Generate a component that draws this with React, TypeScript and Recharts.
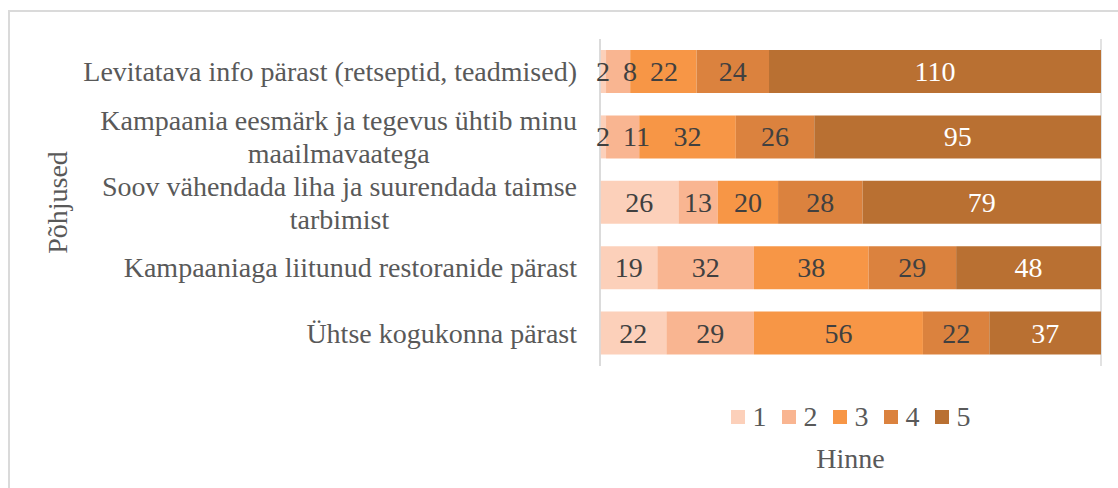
import { BarChart, Bar, XAxis, YAxis, CartesianGrid, Legend, LabelList } from 'recharts';

const categories = [
  'Levitatava info pärast (retseptid, teadmised)',
  'Kampaania eesmärk ja tegevus ühtib minu maailmavaatega',
  'Soov vähendada liha ja suurendada taimse tarbimist',
  'Kampaaniaga liitunud restoranide pärast',
  'Ühtse kogukonna pärast',
];
const grade1 = [2, 2, 26, 19, 22];
const grade2 = [8, 11, 13, 32, 29];
const grade3 = [22, 32, 20, 38, 56];
const grade4 = [24, 26, 28, 29, 22];
const grade5 = [110, 95, 79, 48, 37];
const seriesNames = ['1', '2', '3', '4', '5'];
const colors = ['#fcd0ba', '#f9b591', '#f79646', '#db823e', '#b97032'];
const labelColors = ['#404040', '#404040', '#404040', '#404040', '#ffffff'];

const FONT = '"Liberation Serif", "Times New Roman", serif';
const SIZE = 28;

const seriesValues = [grade1, grade2, grade3, grade4, grade5];
const data = categories.map((name, i) => {
  const row: any = { name };
  seriesNames.forEach((s, j) => (row['g' + s] = seriesValues[j][i]));
  return row;
});
const total = Math.max(...data.map((_, i) => seriesValues.reduce((a, s) => a + s[i], 0)));
const ticks = [0, 1, 2, 3, 4, 5].map((k) => (total * k) / 5);

let ctx: CanvasRenderingContext2D | null = null;
function measure(t: string) {
  if (!ctx) ctx = document.createElement('canvas').getContext('2d');
  if (!ctx) return t.length * SIZE * 0.45;
  ctx.font = `${SIZE}px "Liberation Serif"`;
  return ctx.measureText(t).width;
}

function wrap(text: string, maxW: number) {
  const words = text.split(' ');
  const lines: string[] = [];
  let cur = '';
  words.forEach((w) => {
    const next = cur ? cur + ' ' + w : w;
    if (cur && measure(next) > maxW) {
      lines.push(cur);
      cur = w;
    } else cur = next;
  });
  if (cur) lines.push(cur);
  return lines;
}

// label centres along a row (in value units of px), nudged right when a
// narrow segment's label would crowd the previous one, like Excel does
const LABEL_GAP = 13;
function labelShift(row: number, series: number, pxPerUnit: number) {
  let cum = 0;
  let prevRight = -Infinity;
  let shift = 0;
  for (let j = 0; j <= series; j++) {
    const v = seriesValues[j][row];
    const center = (cum + v / 2) * pxPerUnit;
    const w = measure(String(v));
    let c = center;
    if (c - w / 2 < prevRight + LABEL_GAP) c = prevRight + LABEL_GAP + w / 2;
    prevRight = c + w / 2;
    shift = c - center;
    cum += v;
  }
  return shift;
}

function makeLabel(series: number) {
  return (props: any) => {
    const { x, y, width, height, value, index } = props;
    if (!value) return null;
    const dx = labelShift(index, series, width / value);
    return (
      <text
        x={x + width / 2 + dx}
        y={y + height / 2}
        textAnchor="middle"
        dominantBaseline="central"
        fontFamily={FONT}
        fontSize={SIZE}
        fill={labelColors[series]}
      >
        {value}
      </text>
    );
  };
}

function CategoryTick(props: any) {
  const { x, y, payload } = props;
  const lines = wrap(payload.value, 510);
  const blockW = Math.max(...lines.map(measure));
  const cx = x - blockW / 2;
  const lh = 33;
  return (
    <g>
      {lines.map((l, i) => (
        <text
          key={i}
          x={cx}
          y={y + (i - (lines.length - 1) / 2) * lh}
          textAnchor="middle"
          dominantBaseline="central"
          fontFamily={FONT}
          fontSize={SIZE}
          fill="#595959"
        >
          {l}
        </text>
      ))}
    </g>
  );
}

function AxisTitle(props: any) {
  const { viewBox } = props;
  const x = viewBox.x + 57;
  const y = viewBox.y + viewBox.height / 2;
  return (
    <text
      x={x}
      y={y}
      transform={`rotate(-90, ${x}, ${y})`}
      textAnchor="middle"
      dominantBaseline="central"
      fontFamily={FONT}
      fontSize={SIZE}
      fill="#595959"
    >
      Põhjused
    </text>
  );
}

function LegendContent() {
  return (
    <div style={{ fontFamily: FONT, fontSize: SIZE, color: '#595959', textAlign: 'center' }}>
      <div style={{ display: 'flex', justifyContent: 'center', alignItems: 'center', gap: 15, height: 40 }}>
        {seriesNames.map((s, i) => (
          <div key={s} style={{ display: 'flex', alignItems: 'center' }}>
            <span style={{ width: 14, height: 14, background: colors[i], display: 'inline-block', marginRight: 8 }} />
            <span>{s}</span>
          </div>
        ))}
      </div>
      <div style={{ marginTop: 6 }}>Hinne</div>
    </div>
  );
}

export default function App() {
  return (
    <div style={{ position: 'absolute', left: 0, top: 0, width: 1118, height: 488, overflow: 'hidden', background: '#fff' }}>
      <div
        style={{
          position: 'absolute',
          left: 8,
          top: 10,
          width: 1200,
          height: 600,
          border: '2px solid #dadada',
        }}
      />
      <div style={{ position: 'absolute', left: 0, top: 0 }}>
        <BarChart
          width={1118}
          height={488}
          data={data}
          layout="vertical"
          margin={{ top: 39, right: 17, bottom: 121, left: 0 }}
        >
          <CartesianGrid horizontal={false} stroke="#d9d9d9" strokeWidth={1.5} />
          <XAxis
            type="number"
            domain={[0, total]}
            ticks={ticks}
            tick={false}
            tickLine={false}
            axisLine={false}
            height={1}
          />
          <YAxis
            type="category"
            dataKey="name"
            width={600}
            tickSize={0}
            tickMargin={23}
            tickLine={false}
            axisLine={{ stroke: '#d9d9d9', strokeWidth: 1.5 }}
            tick={<CategoryTick />}
            interval={0}
            label={(p: any) => <AxisTitle {...p} />}
          />
          <Legend
            verticalAlign="middle"
            wrapperStyle={{ top: 397, left: 600, width: 501 }}
            content={() => <LegendContent />}
          />
          {seriesNames.map((s, i) => (
            <Bar
              key={s}
              dataKey={'g' + s}
              name={s}
              stackId="a"
              fill={colors[i]}
              barSize={43}
              isAnimationActive={false}
            >
              <LabelList dataKey={'g' + s} content={makeLabel(i)} />
            </Bar>
          ))}
        </BarChart>
      </div>
    </div>
  );
}
